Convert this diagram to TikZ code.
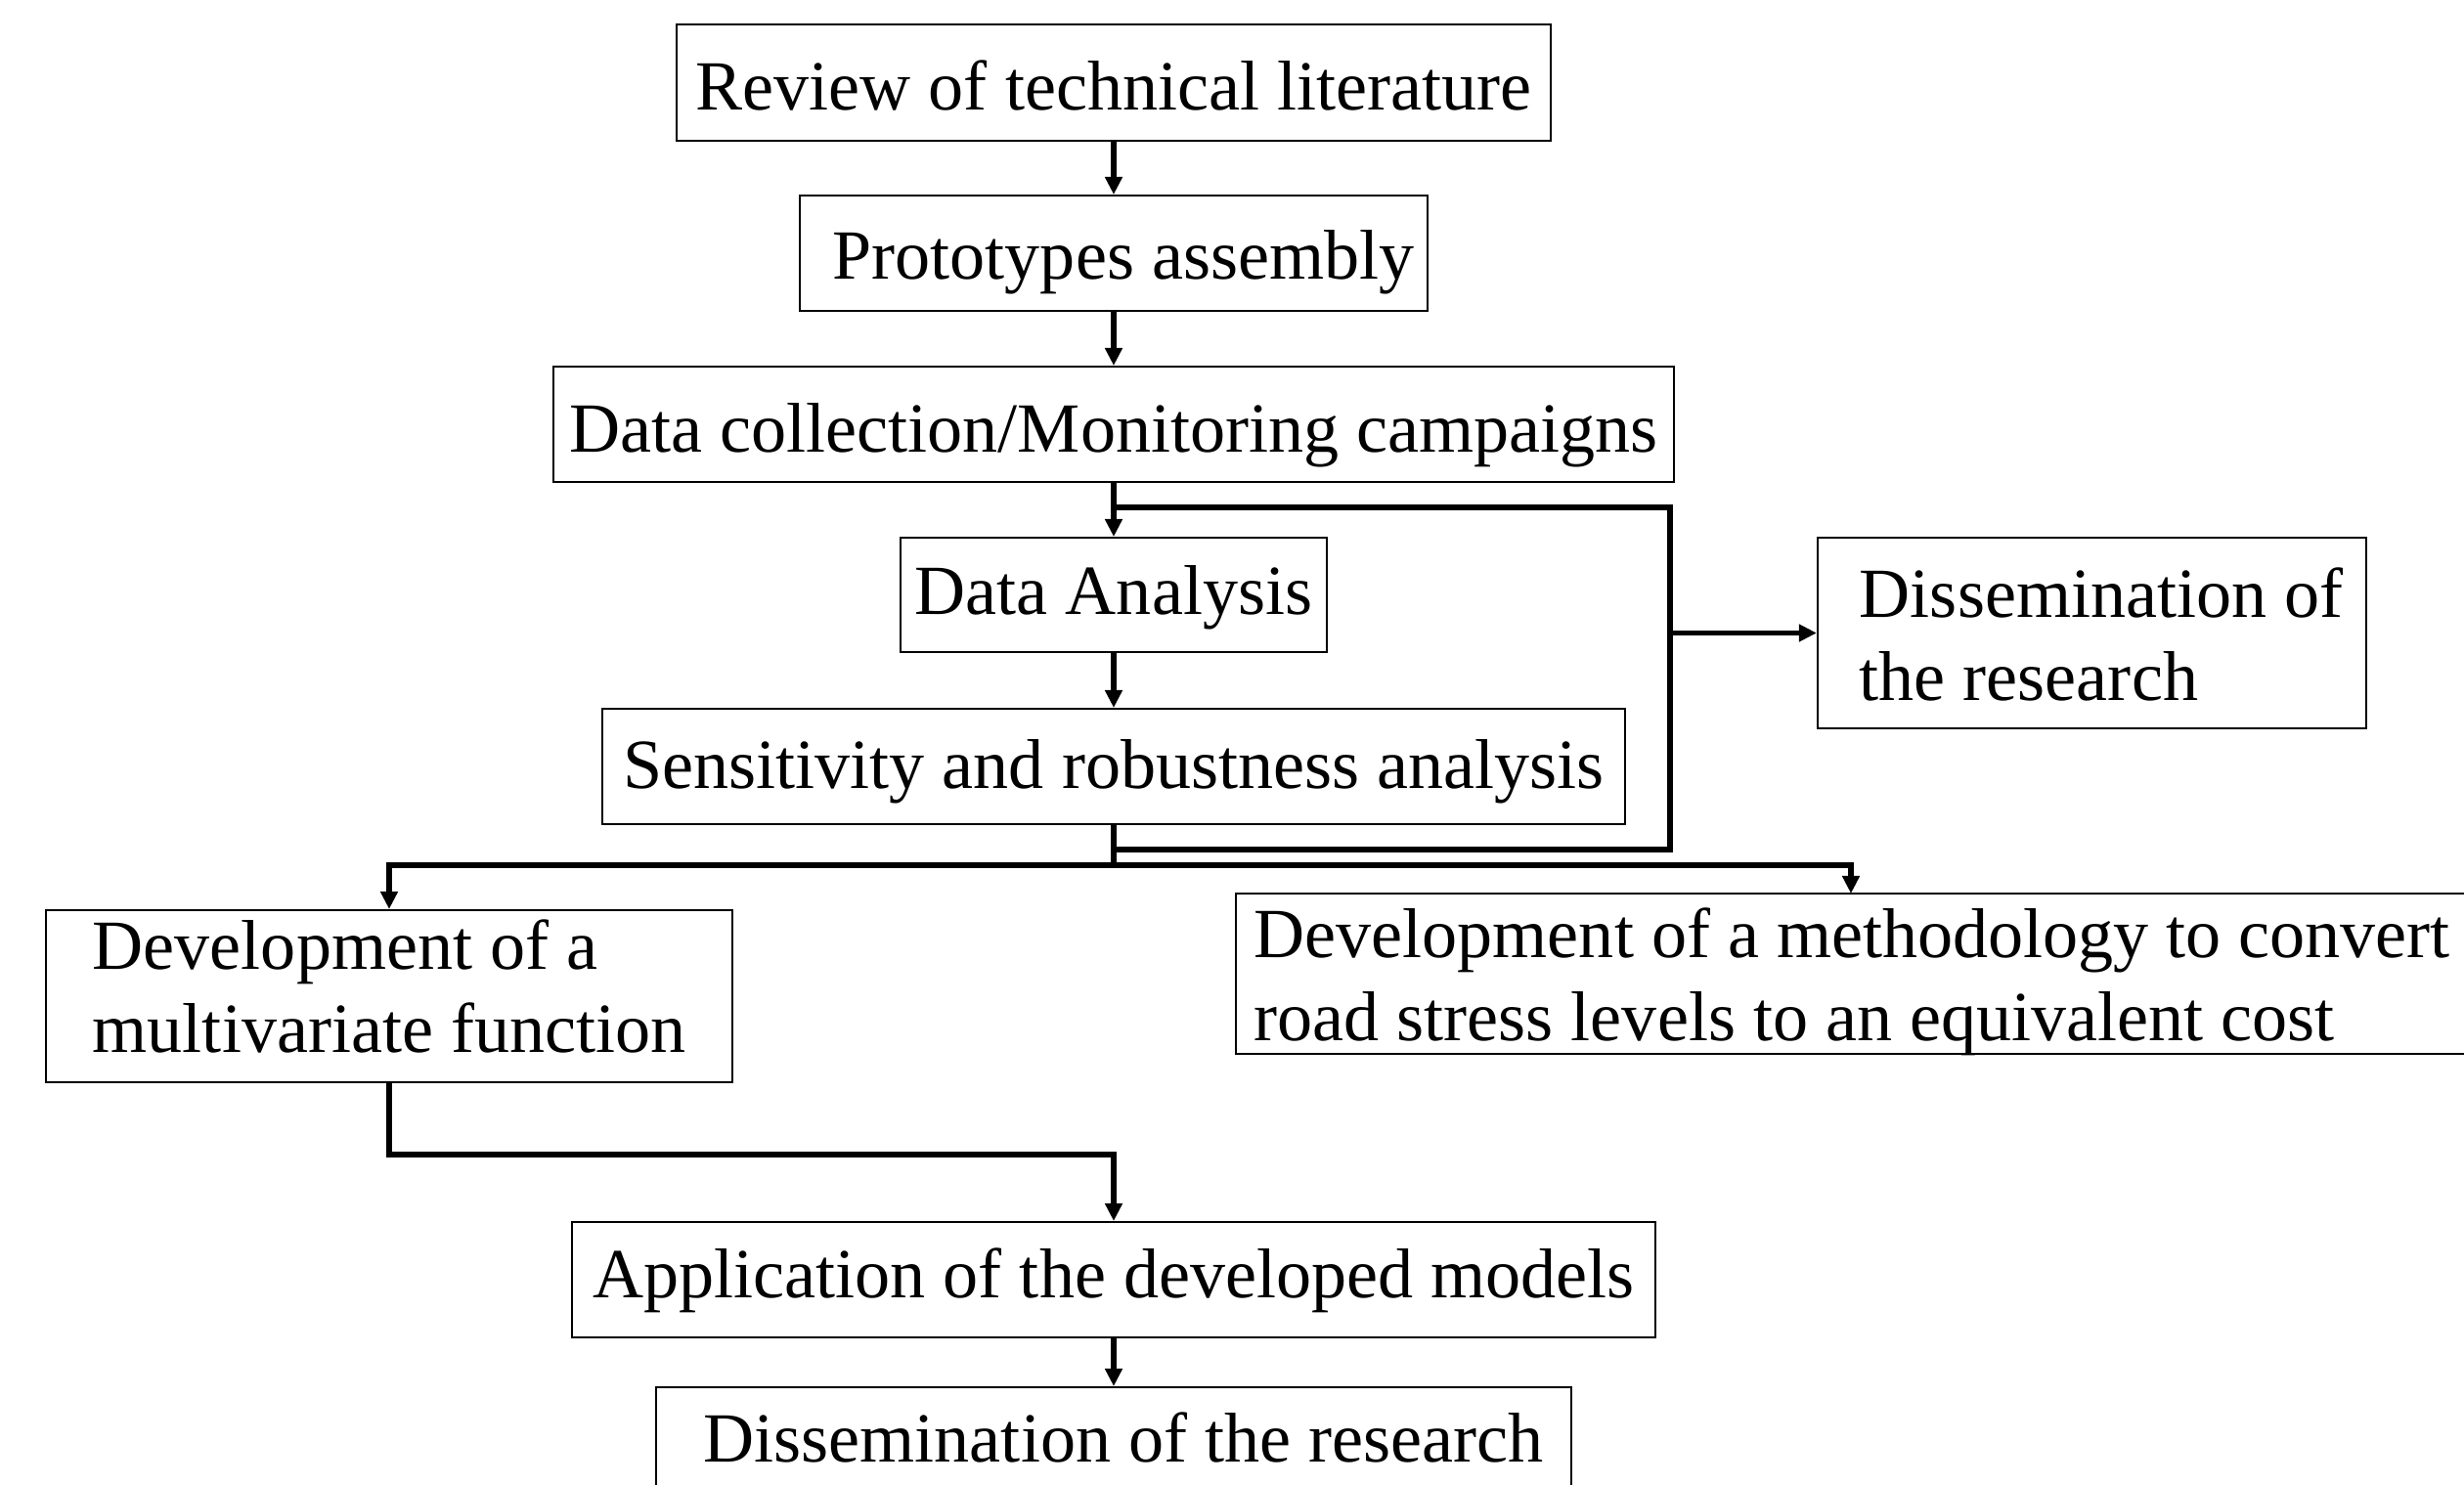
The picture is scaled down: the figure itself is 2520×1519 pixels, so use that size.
\documentclass[tikz,border=0pt]{standalone}
\usepackage{fontspec}
\setmainfont{Liberation Serif}
\usetikzlibrary{arrows.meta,calc}
\newcommand{\boxfont}{\fontsize{20.5}{24.1}\selectfont}
% two-line text, flush left, with a left padding inside a box of given width
\newcommand{\leftpair}[4]{\makebox[#1][l]{\hspace{#2}\begin{tabular}[t]{@{}l@{}}#3\\#4\end{tabular}}}
\begin{document}
\begin{tikzpicture}[x=0.01cm,y=-0.01cm,
  box/.style={draw, line width=0.55pt, inner sep=0pt, font=\boxfont, text depth=0pt},
  link/.style={line width=1.6pt},
  flow/.style={line width=1.6pt, -{Triangle[length=0.18cm,width=0.17cm]}},
]
\useasboundingbox (0,0) rectangle (2520,1519);

% main column
\node[box, minimum width=8.93cm, minimum height=1.19cm, text height=0.55cm] (review) at (1139,84.5) {Review of technical literature};
\node[box, minimum width=6.41cm, minimum height=1.18cm, text height=0.52cm] (proto) at (1139,259) {\hspace{0.2cm}Prototypes assembly};
\node[box, minimum width=11.45cm, minimum height=1.18cm, text height=0.56cm] (collect) at (1139,434) {Data collection/Monitoring campaigns};
\node[box, minimum width=4.35cm, minimum height=1.17cm, text height=0.39cm] (analysis) at (1139,608.5) {Data Analysis};
\node[box, minimum width=10.45cm, minimum height=1.18cm, text height=0.44cm] (sens) at (1139,784) {Sensitivity and robustness analysis};
\node[box, minimum width=11.07cm, minimum height=1.18cm, text height=0.36cm] (app) at (1139,1309) {Application of the developed models};
\node[box, minimum width=9.35cm, minimum height=1.18cm, text height=0.34cm] (dissB) at (1139,1478) {\hspace{0.2cm}Dissemination of the research};

% side boxes with two lines of text
\node[box, minimum width=5.61cm, minimum height=1.95cm, text height=0pt, text depth=0.31cm] (dissR) at (2139.5,647.5)
  {\leftpair{5.61cm}{0.43cm}{Dissemination of}{the research}};
\node[box, minimum width=7.02cm, minimum height=1.76cm, text height=0pt, text depth=0.54cm] (multi) at (398,1019)
  {\leftpair{7.02cm}{0.48cm}{Development of a}{multivariate function}};
\node[box, minimum width=12.80cm, minimum height=1.64cm, text height=0pt, text depth=0.32cm] (method) at (1904,996)
  {\leftpair{12.80cm}{0.19cm}{Development of a methodology to convert}{road stress levels to an equivalent cost}};

% junction points
\coordinate (tap) at (1139,519);
\coordinate (railTop) at (1708,519);
\coordinate (railBot) at (1708,869);
\coordinate (railJoin) at (1139,869);
\coordinate (split) at (1139,885);
\coordinate (methIn) at (1893,914);
\coordinate (lowBend) at (398,1181);

% connectors
\draw[flow] (review) -- (proto);
\draw[flow] (proto) -- (collect);
\draw[flow] (collect) -- (analysis);
\draw[flow] (analysis) -- (sens);
\draw[link] (tap) -- (railTop) -- (railBot) -- (railJoin);
\draw[flow] (railTop |- dissR.west) -- (dissR.west);
\draw[link] (sens.south) -- (split);
\draw[flow] (split) -| (multi.north);
\draw[flow] (split) -| (methIn);
\draw[flow] (multi.south) -- (lowBend) -| (app.north);
\draw[flow] (app) -- (dissB);
\end{tikzpicture}
\end{document}
